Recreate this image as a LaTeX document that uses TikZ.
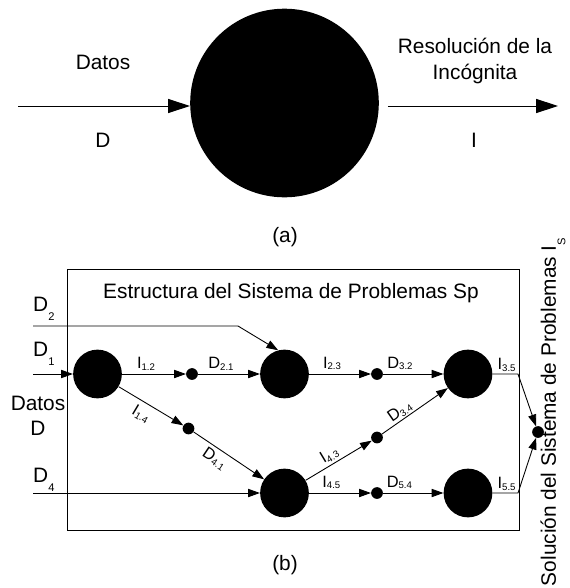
\documentclass[tikz,border=0pt]{standalone}
\usepackage{fontspec}
\setmainfont{Liberation Sans}
\usetikzlibrary{arrows.meta, positioning, calc}

\newcommand{\esub}[1]{\raisebox{-1.5pt}{\fontsize{8.2}{8.2}\selectfont #1}}
\newcommand{\isub}[1]{\raisebox{-8pt}{\fontsize{9.5}{9.5}\selectfont #1}}

\tikzset{
  bigball/.style={circle, fill=black, minimum size=161pt, inner sep=0pt},
  ball/.style={circle, fill=black, minimum size=41.6pt, inner sep=0pt},
  junction/.style={circle, fill=black, minimum size=10pt, inner sep=0pt},
  bigflow/.style={-{Triangle[length=18.7pt, width=12pt]}, line width=0.8pt},
  flow/.style={-{Triangle[length=10pt, width=7pt]}, line width=0.75pt},
  lbl/.style={font=\fontsize{17.8}{21.3}\selectfont, inner sep=0pt},
  elbl/.style={font=\fontsize{14}{14}\selectfont, inner sep=1pt},
}

\begin{document}
\begin{tikzpicture}[x=0.03cm, y=-0.03cm]
  \useasboundingbox (0,0) rectangle (570,588);

  % (a) single problem
  \node[bigball] (prob) at (284.5,103) {};
  \coordinate (din) at (18,106);
  \coordinate (iout) at (558,106);
  \draw[bigflow] (din) -- (din -| prob.west);
  \draw[bigflow, shorten <=7.5pt] (prob.east |- iout) -- (iout);

  \node[lbl] (datos) at (103,62) {Datos};
  \node[lbl] (dlabel) at (103,140) {D};
  \node[lbl, align=center, font=\fontsize{17.8}{23}\selectfont] (resol) at (475,61) {Resolución de la\\Incógnita};
  \node[lbl] (ilabel) at (474,140) {I};
  \node[lbl] (capa) at (285,237) {(a)};

  % (b) system of problems
  \draw[line width=0.8pt] (67,269) rectangle (519,530);
  \node[lbl] (title) at (291,293) {Estructura del Sistema de Problemas Sp};

  \node[ball] (c1) at (97.5,374) {};
  \node[ball] (c2) at (284.5,374) {};
  \node[ball] (c3) at (468,374) {};
  \node[ball] (c4) at (284.5,493) {};
  \node[ball] (c5) at (468,493) {};

  \node[junction] (j12) at (192,374) {};
  \node[junction] (j14) at (188.5,428.5) {};
  \node[junction] (j32) at (377,374) {};
  \node[junction] (j43) at (377,437.5) {};
  \node[junction] (j54) at (377,493) {};
  \node[junction] (fin) at (538,432) {};

  % inputs
  \coordinate (d2in) at (33,326);
  \coordinate (d2bend) at (238,326);
  \coordinate (d1in) at (33,374);
  \coordinate (d4in) at (33,493);
  \draw[flow] (d2in) -- (d2bend) -- (c2.105);
  \draw[flow] (d1in) -- (c1);
  \draw[flow] (d4in) -- (c4);
  \node[lbl, anchor=south west] (d2lbl) at (33,321) {D\isub{2}};
  \node[lbl, anchor=south west] (d1lbl) at (33,366) {D\isub{1}};
  \node[lbl, anchor=south west] (d4lbl) at (33,492) {D\isub{4}};
  \node[lbl, align=center] (datosd) at (38,416) {Datos\\D};

  % flows between problems
  \draw[flow] (c1) -- node[elbl, pos=0.375, above=2pt] {I\esub{1.2}} (j12);
  \draw[flow] (j12) -- node[elbl, pos=0.37, above=2pt] {D\esub{2.1}} (c2);
  \draw[flow] (c2) -- node[elbl, pos=0.37, above=2pt] {I\esub{2.3}} (j32);
  \draw[flow] (j32) -- node[elbl, pos=0.28, above=2pt] {D\esub{3.2}} (c3);
  \draw[flow] (c1) -- node[elbl, pos=0.44, below=3pt, sloped] {I\esub{1.4}} (j14);
  \draw[flow] (j14) -- node[elbl, pos=0.38, below=2pt, sloped] {D\esub{4.1}} (c4);
  \draw[flow] (c4) -- node[elbl, pos=0.43, above=1pt, sloped] {I\esub{4.3}} (j43);
  \draw[flow] (j43) -- node[elbl, pos=0.34, above=0pt, sloped] {D\esub{3.4}} (c3);
  \draw[flow] (c4) -- node[elbl, pos=0.36, above=2pt] {I\esub{4.5}} (j54);
  \draw[flow] (j54) -- node[elbl, pos=0.27, above=2pt] {D\esub{5.4}} (c5);

  % outputs
  \coordinate (b35) at (518,374);
  \coordinate (b55) at (518,493);
  \draw[flow] (c3) -- node[elbl, pos=0.55, above=1pt] {I\esub{3.5}} (b35) -- (fin);
  \draw[flow] (c5) -- node[elbl, pos=0.55, above=1pt] {I\esub{5.5}} (b55) -- (fin);

  \node[lbl, rotate=90] (solucion) at (553,412) {Solución del Sistema de Problemas I\isub{S}};
  \node[lbl] (capb) at (285,565) {(b)};
\end{tikzpicture}
\end{document}
